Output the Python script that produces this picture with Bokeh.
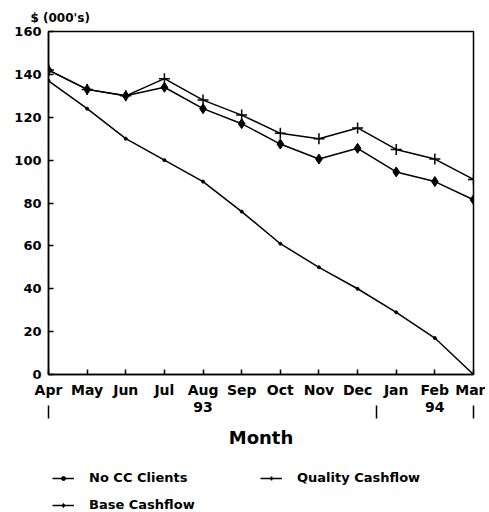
from bokeh.plotting import figure
from bokeh.models import Range1d, FixedTicker, Legend, LegendItem, LinearAxis
from bokeh.layouts import column
from bokeh.embed import file_html
from bokeh.resources import INLINE

months = ["Apr", "May", "Jun", "Jul", "Aug", "Sep", "Oct", "Nov", "Dec", "Jan", "Feb", "Mar"]
month_labels = ["Apr", "May", "Jun", "Jul", "Aug\n93", "Sep", "Oct", "Nov", "Dec", "Jan", "Feb\n94", "Mar"]
no_cc = [137, 124, 110, 100, 90, 76, 61, 50, 40, 29, 17, 0]
quality = [142, 133, 130, 138, 128, 121, 112.5, 110, 115, 105, 100.5, 91]
base = [142, 133, 130, 134, 124, 117, 107.5, 100.5, 105.5, 94.5, 90, 81.5]
year_breaks = [0, 8.5, 11]
y_ticks = [0, 20, 40, 60, 80, 100, 120, 140, 160]
series_names = ["No CC Clients", "Quality Cashflow", "Base Cashflow"]

x = list(range(len(months)))
FONT = "DejaVu Sans"

p = figure(width=485, height=450, output_backend="svg", toolbar_location=None,
           x_range=Range1d(0, 11), y_range=Range1d(0, 160),
           min_border_left=48, min_border_right=12, min_border_top=31, min_border_bottom=76)
p.grid.visible = False
p.outline_line_color = "black"
p.outline_line_width = 1.5

p.title.text = "$ (000's)"
p.title.text_font = FONT
p.title.text_font_style = "bold"
p.title.text_font_size = "12px"
p.title.text_color = "black"
p.title.align = "left"
p.title.offset = -18
p.title.standoff = 14

p.xaxis.ticker = FixedTicker(ticks=x)
p.xaxis.major_label_overrides = {i: lab for i, lab in enumerate(month_labels)}
p.yaxis.ticker = FixedTicker(ticks=y_ticks)
for ax in (p.xaxis, p.yaxis):
    ax.major_tick_in = 5
    ax.major_tick_out = 0
    ax.minor_tick_line_color = None
    ax.axis_line_width = 1.5
    ax.major_tick_line_width = 1.5
    ax.major_label_text_font = FONT
    ax.major_label_text_font_style = "bold"
    ax.major_label_text_color = "black"
p.xaxis.major_label_text_font_size = "14px"
p.xaxis.major_label_text_line_height = 1.1
p.xaxis.major_label_standoff = 7
p.yaxis.major_label_text_font_size = "13px"
p.yaxis.major_label_standoff = 7

# year separators: minor ticks only (no labels) on a line-less axis carrying the title
sep_axis = LinearAxis(ticker=FixedTicker(ticks=[], minor_ticks=year_breaks),
                      axis_line_color=None, major_tick_line_color=None,
                      minor_tick_in=13, minor_tick_out=0,
                      minor_tick_line_width=1.5, minor_tick_line_color="black",
                      axis_label="Month", axis_label_text_font=FONT,
                      axis_label_text_font_style="bold", axis_label_text_font_size="18px",
                      axis_label_text_color="black", axis_label_standoff=8)
p.add_layout(sep_axis, "below")

p.line(x, no_cc, line_color="black", line_width=1.5)
p.scatter(x, no_cc, marker="circle", size=3, color="black")
p.line(x, quality, line_color="black", line_width=1.5)
p.scatter(x, quality, marker="cross", size=11, line_color="black", line_width=1.5)
p.line(x, base, line_color="black", line_width=1.5)
p.scatter(x, base, marker="diamond", size=10, color="black")

# legend panel: same series drawn outside its visible ranges, only legend shows
q = figure(width=485, height=62, output_backend="svg", toolbar_location=None,
           x_range=Range1d(-100, -99), y_range=Range1d(-100, -99),
           x_axis_location=None, y_axis_location=None,
           min_border_left=0, min_border_right=0, min_border_top=0, min_border_bottom=0)
q.grid.visible = False
q.outline_line_color = None

l1 = q.line(x, no_cc, line_color="black", line_width=1.5)
s1 = q.scatter(x, no_cc, marker="circle", size=3, color="black")
l2 = q.line(x, quality, line_color="black", line_width=1.5)
s2 = q.scatter(x, quality, marker="cross", size=9, line_color="black", line_width=1.5)
l3 = q.line(x, base, line_color="black", line_width=1.5)
s3 = q.scatter(x, base, marker="diamond", size=9, color="black")

leg_style = dict(label_text_font=FONT, label_text_font_style="bold", label_text_font_size="13px",
                 label_text_color="black",
                 glyph_width=22, glyph_height=10, label_height=10, label_standoff=15,
                 spacing=12, padding=0, margin=0, border_line_color=None,
                 background_fill_alpha=0)
leg1 = Legend(items=[LegendItem(label=series_names[0], renderers=[l1, s1]),
                     LegendItem(label=series_names[2], renderers=[l3, s3])],
              location=(4, 0), **leg_style)
leg2 = Legend(items=[LegendItem(label=series_names[1], renderers=[l2, s2])],
              location=(212, 27), **leg_style)
q.add_layout(leg1, "center")
q.add_layout(leg2, "center")

open("out.html", "w").write(file_html(column(p, q, spacing=0), INLINE))
